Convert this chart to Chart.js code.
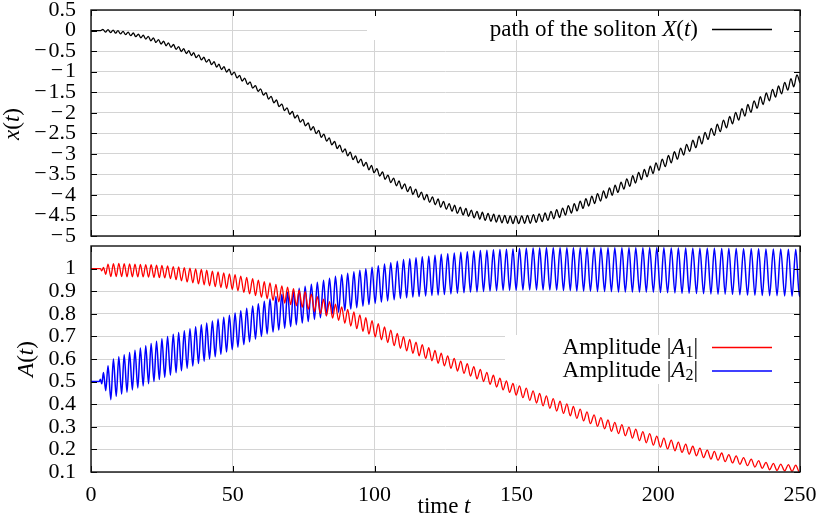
<!DOCTYPE html>
<html><head><meta charset="utf-8">
<script src="https://cdn.jsdelivr.net/npm/chart.js@4.4.1/dist/chart.umd.min.js"></script>
<style>
html,body{margin:0;padding:0;background:#fff;}
#wrap{position:relative;width:825px;height:525px;overflow:hidden;background:#fff;}
canvas{position:absolute;left:0;}
#c1{top:0;} #c2{top:240px;}
</style></head><body>
<div id="wrap"><canvas id="c1" width="825" height="252"></canvas><canvas id="c2" width="825" height="285"></canvas></div>
<script>
// ---------- data ----------
const timeTicks = [0, 50, 100, 150, 200, 250];
const pathTicks = [0.5, 0, -0.5, -1, -1.5, -2, -2.5, -3, -3.5, -4, -4.5, -5];
const ampTicks = [0.1, 0.2, 0.3, 0.4, 0.5, 0.6, 0.7, 0.8, 0.9, 1];

// path of the soliton X(t): times of the wiggle extrema and values
const tPath = [0, 3.4,
 4.2, 5.1, 6.0, 6.9, 7.8, 8.7, 9.5, 10.4, 11.3, 12.2, 13.1, 14.0, 14.9, 15.8, 16.7, 17.6, 18.4, 19.3, 20.2, 21.1, 22.0, 22.9, 23.8, 24.7, 25.6, 26.5, 27.3, 28.2, 29.1, 30.0, 30.9, 31.8, 32.7, 33.6, 34.5, 35.4, 36.2, 37.1, 38.0, 38.9, 39.8, 40.7, 41.6, 42.5, 43.4, 44.3, 45.1, 46.0, 46.9, 47.8, 48.7, 49.6,
 50.5, 51.5, 52.4, 53.3, 54.2, 55.2, 56.1, 57.0, 58.0, 58.9, 59.8, 60.8, 61.7, 62.6, 63.5, 64.5, 65.4, 66.3, 67.3, 68.2, 69.1, 70.1, 71.0, 71.9, 72.8, 73.8, 74.7, 75.6, 76.6, 77.5, 78.4, 79.4, 80.3, 81.2, 82.1, 83.1, 84.0, 84.9, 85.9, 86.8, 87.7, 88.7, 89.6, 90.5, 91.4, 92.4, 93.3, 94.2, 95.2, 96.1, 97.0, 98.0, 98.9, 99.8,
 100.8, 101.8, 102.8, 103.7, 104.7, 105.7, 106.7, 107.7, 108.6, 109.6, 110.6, 111.6, 112.6, 113.5, 114.5, 115.5, 116.5, 117.5, 118.4, 119.4, 120.4, 121.4, 122.4, 123.3, 124.3, 125.3, 126.3, 127.3, 128.2, 129.2, 130.2, 131.2, 132.2, 133.1, 134.1, 135.1, 136.1, 137.1, 138.0, 139.0, 140.0, 141.0, 142.0, 142.9, 143.9, 144.9, 145.9, 146.9, 147.8, 148.8, 149.8,
 150.8, 151.9, 152.9, 153.9, 154.9, 156.0, 157.0, 158.0, 159.1, 160.1, 161.1, 162.2, 163.2, 164.2, 165.2, 166.3, 167.3, 168.3, 169.4, 170.4, 171.4, 172.5, 173.5, 174.5, 175.5, 176.6, 177.6, 178.6, 179.7, 180.7, 181.7, 182.8, 183.8, 184.8, 185.8, 186.9, 187.9, 188.9, 190.0, 191.0, 192.0, 193.1, 194.1, 195.1, 196.1, 197.2, 198.2, 199.2,
 200.3, 201.4, 202.5, 203.6, 204.6, 205.7, 206.8, 207.9, 209.0, 210.0, 211.1, 212.2, 213.3, 214.4, 215.4, 216.5, 217.6, 218.7, 219.8, 220.8, 221.9, 223.0, 224.1, 225.2, 226.2, 227.3, 228.4, 229.5, 230.6, 231.6, 232.7, 233.8, 234.9, 236.0, 237.0, 238.1, 239.2, 240.3, 241.4, 242.4, 243.5, 244.6, 245.7, 246.8, 247.8, 248.9, 250.0];
const pathX = [0, 0,
 0.03, -0.04, 0.02, -0.05, 0.01, -0.065, 0.00, -0.08, -0.02, -0.10, -0.04, -0.125, -0.06, -0.15, -0.09, -0.18, -0.11, -0.21, -0.14, -0.25, -0.18, -0.29, -0.22, -0.33, -0.26, -0.37, -0.30, -0.41, -0.34, -0.46, -0.39, -0.51, -0.44, -0.56, -0.49, -0.61, -0.54, -0.66, -0.59, -0.715, -0.65, -0.77, -0.70, -0.83, -0.76, -0.89, -0.82, -0.95, -0.88, -1.01, -0.94, -1.08,
 -1.01, -1.15, -1.09, -1.23, -1.16, -1.31, -1.25, -1.40, -1.34, -1.48, -1.42, -1.57, -1.51, -1.67, -1.60, -1.76, -1.69, -1.85, -1.79, -1.95, -1.88, -2.04, -1.97, -2.13, -2.06, -2.23, -2.16, -2.32, -2.25, -2.42, -2.34, -2.51, -2.43, -2.60, -2.52, -2.69, -2.61, -2.78, -2.70, -2.87, -2.79, -2.96, -2.88, -3.05, -2.96, -3.14, -3.05, -3.22, -3.13, -3.30, -3.21, -3.39, -3.28, -3.46,
 -3.36, -3.54, -3.44, -3.62, -3.52, -3.70, -3.59, -3.78, -3.66, -3.85, -3.73, -3.92, -3.80, -3.99, -3.86, -4.06, -3.93, -4.12, -3.99, -4.18, -4.05, -4.24, -4.10, -4.30, -4.16, -4.35, -4.21, -4.40, -4.25, -4.45, -4.30, -4.49, -4.33, -4.52, -4.37, -4.56, -4.40, -4.59, -4.42, -4.62, -4.45, -4.64, -4.47, -4.66, -4.49, -4.68, -4.50, -4.69, -4.51, -4.70, -4.51,
 -4.70, -4.51, -4.69, -4.50, -4.69, -4.48, -4.67, -4.46, -4.65, -4.44, -4.62, -4.40, -4.58, -4.36, -4.55, -4.32, -4.49, -4.26, -4.44, -4.21, -4.39, -4.15, -4.33, -4.09, -4.27, -4.03, -4.21, -3.97, -4.15, -3.90, -4.08, -3.83, -4.01, -3.76, -3.94, -3.69, -3.86, -3.61, -3.79, -3.53, -3.71, -3.45, -3.63, -3.38, -3.56, -3.30, -3.48, -3.22,
 -3.40, -3.13, -3.31, -3.04, -3.22, -2.95, -3.13, -2.86, -3.03, -2.77, -2.94, -2.67, -2.85, -2.57, -2.76, -2.48, -2.65, -2.38, -2.55, -2.28, -2.46, -2.18, -2.37, -2.09, -2.27, -1.99, -2.18, -1.90, -2.08, -1.80, -1.99, -1.71, -1.89, -1.61, -1.80, -1.52, -1.71, -1.43, -1.62, -1.35, -1.54, -1.26, -1.45, -1.17, -1.37, -1.08, -1.28];

// amplitudes |A1| and |A2|: times of the wiggle extrema and values
const tAmp = [0, 2.9, 3.3, 3.8, 4.4, 5.2,
 6.0, 7.0, 7.9, 8.9, 9.8, 10.8, 11.7, 12.7, 13.6, 14.6, 15.5, 16.5, 17.4, 18.4, 19.3, 20.3, 21.2, 22.2, 23.1, 24.1, 25.0,
 26.0, 27.0, 28.0, 29.0, 30.0, 30.9, 31.9, 32.9, 33.9, 34.9, 35.9, 36.9, 37.9, 38.9, 39.9, 40.8, 41.8, 42.8, 43.8, 44.8, 45.8, 46.8, 47.8, 48.8, 49.8,
 50.8, 51.8, 52.8, 53.9, 54.9, 55.9, 57.0, 58.0, 59.0, 60.1, 61.1, 62.1, 63.1, 64.2, 65.2, 66.2, 67.3, 68.3, 69.3, 70.4, 71.4, 72.4, 73.4, 74.5,
 75.5, 76.6, 77.7, 78.8, 79.8, 80.9, 82.0, 83.0, 84.1, 85.2, 86.2, 87.3, 88.4, 89.5, 90.5, 91.6, 92.7, 93.7, 94.8, 95.9, 96.9, 98.0, 99.1,
 100.2, 101.3, 102.4, 103.5, 104.6, 105.7, 106.9, 108.0, 109.1, 110.2, 111.3, 112.4, 113.5, 114.6, 115.7, 116.8, 118.0, 119.1, 120.2, 121.3, 122.4, 123.5, 124.6,
 125.8, 126.9, 128.1, 129.2, 130.4, 131.5, 132.7, 133.8, 135.0, 136.1, 137.3, 138.4, 139.6, 140.7, 141.9, 143.0, 144.2, 145.3, 146.5, 147.6, 148.8, 149.9,
 151.1, 152.3, 153.5, 154.7, 155.9, 157.1, 158.2, 159.4, 160.6, 161.8, 163.0, 164.2, 165.4, 166.6, 167.8, 169.0, 170.1, 171.3, 172.5, 173.7, 174.9,
 176.1, 177.4, 178.6, 179.8, 181.1, 182.3, 183.5, 184.7, 186.0, 187.2, 188.4, 189.7, 190.9, 192.1, 193.4, 194.6, 195.8, 197.0, 198.3, 199.5,
 200.8, 202.0, 203.3, 204.6, 205.9, 207.1, 208.4, 209.7, 210.9, 212.2, 213.5, 214.7, 216.0, 217.3, 218.6, 219.8, 221.1, 222.4, 223.6, 224.9,
 226.2, 227.5, 228.8, 230.1, 231.5, 232.8, 234.1, 235.4, 236.7, 238.0, 239.3, 240.6, 241.9, 243.2, 244.6, 245.9, 247.2, 248.5, 249.8, 250.0];
const ampA1 = [1.0, 1.0, 1.0, 0.99, 1.005, 0.975,
 1.020, 0.965, 1.022, 0.965, 1.023, 0.965, 1.022, 0.964, 1.021, 0.964, 1.020, 0.963, 1.019, 0.963, 1.018, 0.962, 1.017, 0.961, 1.015, 0.960, 1.014,
 0.959, 1.012, 0.956, 1.009, 0.951, 1.007, 0.946, 1.004, 0.941, 1.002, 0.937, 0.999, 0.932, 0.996, 0.928, 0.993, 0.924, 0.989, 0.920, 0.985, 0.916, 0.981, 0.912, 0.977, 0.908,
 0.973, 0.902, 0.967, 0.895, 0.961, 0.888, 0.955, 0.881, 0.949, 0.873, 0.942, 0.866, 0.937, 0.859, 0.930, 0.853, 0.924, 0.847, 0.918, 0.841, 0.911, 0.835, 0.905, 0.829,
 0.898, 0.820, 0.887, 0.810, 0.876, 0.800, 0.865, 0.791, 0.854, 0.781, 0.843, 0.771, 0.831, 0.758, 0.820, 0.746, 0.808, 0.734, 0.795, 0.722, 0.783, 0.710, 0.770,
 0.698, 0.756, 0.685, 0.742, 0.673, 0.728, 0.659, 0.713, 0.647, 0.699, 0.636, 0.687, 0.625, 0.675, 0.614, 0.663, 0.603, 0.650, 0.592, 0.638, 0.581, 0.626, 0.570,
 0.614, 0.559, 0.603, 0.547, 0.591, 0.536, 0.579, 0.524, 0.566, 0.512, 0.554, 0.500, 0.541, 0.488, 0.528, 0.476, 0.515, 0.463, 0.503, 0.452, 0.492, 0.440,
 0.481, 0.429, 0.471, 0.417, 0.459, 0.405, 0.448, 0.393, 0.437, 0.382, 0.425, 0.370, 0.413, 0.359, 0.401, 0.348, 0.390, 0.337, 0.378, 0.326, 0.366,
 0.314, 0.353, 0.302, 0.341, 0.291, 0.330, 0.280, 0.320, 0.270, 0.310, 0.260, 0.299, 0.250, 0.290, 0.239, 0.279, 0.229, 0.270, 0.219, 0.259,
 0.210, 0.250, 0.202, 0.241, 0.194, 0.232, 0.187, 0.223, 0.179, 0.214, 0.172, 0.206, 0.164, 0.197, 0.157, 0.191, 0.152, 0.184, 0.146, 0.177,
 0.140, 0.171, 0.134, 0.164, 0.128, 0.157, 0.122, 0.150, 0.116, 0.143, 0.110, 0.138, 0.107, 0.135, 0.105, 0.133, 0.103, 0.130, 0.100, 0.101];
const ampA2 = [0.5, 0.5, 0.51, 0.49, 0.54, 0.46,
 0.570, 0.420, 0.600, 0.435, 0.610, 0.445, 0.619, 0.453, 0.629, 0.463, 0.639, 0.472, 0.649, 0.481, 0.659, 0.491, 0.669, 0.500, 0.679, 0.509, 0.690,
 0.519, 0.700, 0.528, 0.709, 0.539, 0.717, 0.548, 0.725, 0.559, 0.734, 0.569, 0.743, 0.580, 0.751, 0.590, 0.759, 0.600, 0.768, 0.610, 0.777, 0.621, 0.785, 0.631, 0.794, 0.641,
 0.804, 0.652, 0.814, 0.664, 0.825, 0.676, 0.835, 0.688, 0.845, 0.700, 0.856, 0.711, 0.866, 0.720, 0.877, 0.728, 0.886, 0.736, 0.895, 0.743, 0.904, 0.751, 0.913, 0.759,
 0.922, 0.766, 0.931, 0.775, 0.940, 0.783, 0.949, 0.791, 0.957, 0.800, 0.966, 0.807, 0.973, 0.814, 0.979, 0.821, 0.986, 0.827, 0.993, 0.834, 0.999, 0.841, 1.006,
 0.846, 1.013, 0.852, 1.020, 0.857, 1.026, 0.862, 1.033, 0.868, 1.040, 0.871, 1.044, 0.874, 1.048, 0.876, 1.052, 0.879, 1.055, 0.881, 1.059, 0.883, 1.063, 0.885,
 1.066, 0.888, 1.069, 0.891, 1.072, 0.893, 1.075, 0.896, 1.078, 0.897, 1.080, 0.899, 1.081, 0.901, 1.083, 0.902, 1.084, 0.904, 1.086, 0.904, 1.087, 0.904,
 1.089, 0.905, 1.090, 0.905, 1.091, 0.905, 1.091, 0.905, 1.092, 0.905, 1.092, 0.904, 1.092, 0.903, 1.092, 0.902, 1.092, 0.901, 1.092, 0.901, 1.092,
 0.900, 1.092, 0.899, 1.092, 0.899, 1.092, 0.898, 1.092, 0.897, 1.092, 0.897, 1.092, 0.896, 1.092, 0.896, 1.092, 0.895, 1.092, 0.895, 1.092,
 0.894, 1.092, 0.893, 1.091, 0.892, 1.091, 0.891, 1.091, 0.891, 1.090, 0.890, 1.090, 0.889, 1.090, 0.888, 1.090, 0.887, 1.089, 0.887, 1.089,
 0.886, 1.089, 0.884, 1.088, 0.883, 1.088, 0.882, 1.088, 0.881, 1.087, 0.880, 1.087, 0.880, 1.087, 0.879, 1.086, 0.878, 1.086, 0.877, 0.90];

// ---------- drawing ----------
const SERIF = "'Liberation Serif', 'Times New Roman', serif";
const GRID = '#d4d4d4';

function rich(ctx, segs, x, y, size, align) {
  let w = 0;
  const parts = segs.map(s => {
    const sz = s.sub ? Math.round(size * 0.7) : size;
    const f = (s.it ? 'italic ' : '') + sz + 'px ' + SERIF;
    ctx.font = f;
    const m = ctx.measureText(s.t).width;
    w += m;
    return { f, m, t: s.t, dy: s.sub ? size * 0.22 : 0 };
  });
  let cx = align === 'right' ? x - w : (align === 'center' ? x - w / 2 : x);
  ctx.textBaseline = 'middle';
  ctx.textAlign = 'left';
  parts.forEach(p => { ctx.font = p.f; ctx.fillText(p.t, cx, y + p.dy); cx += p.m; });
}

function gpPlugin(opt) {
  return {
    id: 'gp',
    beforeDatasetsDraw(chart) {
      const c = chart.ctx, b = opt.keyBox;
      c.save(); c.fillStyle = '#fff';
      c.fillRect(b[0], b[1] - opt.dy, b[2] - b[0], b[3] - b[1]);
      c.restore();
    },
    afterDraw(chart) {
      const c = chart.ctx, a = chart.chartArea, xs = chart.scales.x, ys = chart.scales.y;
      c.save();
      c.strokeStyle = '#000'; c.lineWidth = 1;
      c.beginPath();
      opt.xt.forEach(v => { const p = Math.round(xs.getPixelForValue(v)) + 0.5;
        c.moveTo(p, a.top); c.lineTo(p, a.top + 6); c.moveTo(p, a.bottom); c.lineTo(p, a.bottom - 6); });
      opt.yt.forEach(v => { const p = Math.round(ys.getPixelForValue(v)) + 0.5;
        c.moveTo(a.left, p); c.lineTo(a.left + 6, p); c.moveTo(a.right, p); c.lineTo(a.right - 6, p); });
      c.stroke();
      c.lineWidth = 1.4; c.strokeStyle = '#111';
      c.strokeRect(a.left, a.top, a.right - a.left, a.bottom - a.top);
      opt.items.forEach(it => {
        const ds = chart.data.datasets[it.ds];
        const y = it.y - opt.dy;
        c.fillStyle = '#000';
        rich(c, it.segs, 698, y, 23, 'right');
        c.strokeStyle = ds.borderColor; c.lineWidth = ds.borderWidth;
        c.beginPath(); c.moveTo(712, y); c.lineTo(772, y); c.stroke();
      });
      opt.titles.forEach(t => {
        c.save(); c.translate(t.x, t.y - opt.dy);
        if (t.rot) c.rotate(-Math.PI / 2);
        c.fillStyle = '#000';
        rich(c, t.segs, 0, 0, 23, 'center');
        c.restore();
      });
      c.restore();
    }
  };
}

const fmt = v => { const r = Math.round(v * 10) / 10; return (r < 0 ? '\u2212\u200A' : '') + String(Math.abs(r)); };
const pts = (ts, vs) => ts.map((t, i) => ({ x: t, y: vs[i] }));
const setTicks = arr => s => { s.ticks = arr.map(v => ({ value: v })); };

function baseOpts(yMin, yMax, yTicks, showX, xHeight, pad) {
  return {
    responsive: false, animation: false, devicePixelRatio: 1, events: [],
    layout: { padding: pad },
    plugins: { legend: { display: false }, tooltip: { enabled: false } },
    elements: { point: { radius: 0 }, line: { tension: 0, cubicInterpolationMode: 'monotone' } },
    scales: {
      x: { type: 'linear', min: 0, max: 250, afterBuildTicks: setTicks(timeTicks),
        ticks: { display: showX, maxRotation: 0, autoSkip: false, padding: 10, color: '#000',
          font: { family: SERIF, size: 22 }, callback: v => fmt(v) },
        grid: { color: GRID, lineWidth: 1, drawTicks: false }, border: { display: false },
        afterFit: s => { s.height = xHeight; s.paddingLeft = 0; s.paddingRight = 0; } },
      y: { type: 'linear', min: yMin, max: yMax, afterBuildTicks: setTicks(yTicks),
        ticks: { padding: 15, autoSkip: false, color: '#000', font: { family: SERIF, size: 22 }, callback: v => fmt(v) },
        grid: { color: GRID, lineWidth: 1, drawTicks: false }, border: { display: false },
        afterFit: s => { s.width = 91; s.paddingTop = 0; s.paddingBottom = 0; } }
    }
  };
}

new Chart(document.getElementById('c1'), {
  type: 'line',
  data: { datasets: [{ label: 'path of the soliton X(t)', data: pts(tPath, pathX),
    borderColor: '#000000', borderWidth: 1.3, fill: false }] },
  options: baseOpts(-5, 0.5, pathTicks, false, 16, { left: 0, right: 25, top: 10, bottom: 0 }),
  plugins: [gpPlugin({ dy: 0, keyBox: [367, 11, 799, 40], xt: timeTicks, yt: pathTicks,
    items: [{ ds: 0, y: 29.5, segs: [{ t: 'path of the soliton ' }, { t: 'X', it: true }, { t: '(' }, { t: 't', it: true }, { t: ')' }] }],
    titles: [{ x: 13, y: 124, rot: true, segs: [{ t: 'x', it: true }, { t: '(' }, { t: 't', it: true }, { t: ')' }] }] })]
});

new Chart(document.getElementById('c2'), {
  type: 'line',
  data: { datasets: [
    { label: 'Amplitude |A1|', data: pts(tAmp, ampA1), borderColor: '#ff0000', borderWidth: 1.3, fill: false },
    { label: 'Amplitude |A2|', data: pts(tAmp, ampA2), borderColor: '#0000ff', borderWidth: 1.5, fill: false }] },
  options: baseOpts(0.1, 1.1, ampTicks, true, 53, { left: 0, right: 25, top: 6, bottom: 0 }),
  plugins: [gpPlugin({ dy: 240, keyBox: [505, 335, 799, 384], xt: timeTicks, yt: ampTicks,
    items: [
      { ds: 0, y: 347.5, segs: [{ t: 'Amplitude ' }, { t: '|' }, { t: 'A', it: true }, { t: '1', sub: true }, { t: '|' }] },
      { ds: 1, y: 371, segs: [{ t: 'Amplitude ' }, { t: '|' }, { t: 'A', it: true }, { t: '2', sub: true }, { t: '|' }] }],
    titles: [
      { x: 27, y: 359, rot: true, segs: [{ t: 'A', it: true }, { t: '(' }, { t: 't', it: true }, { t: ')' }] },
      { x: 444, y: 507, rot: false, segs: [{ t: 'time ' }, { t: 't', it: true }] }] })]
});
</script>
</body></html>
